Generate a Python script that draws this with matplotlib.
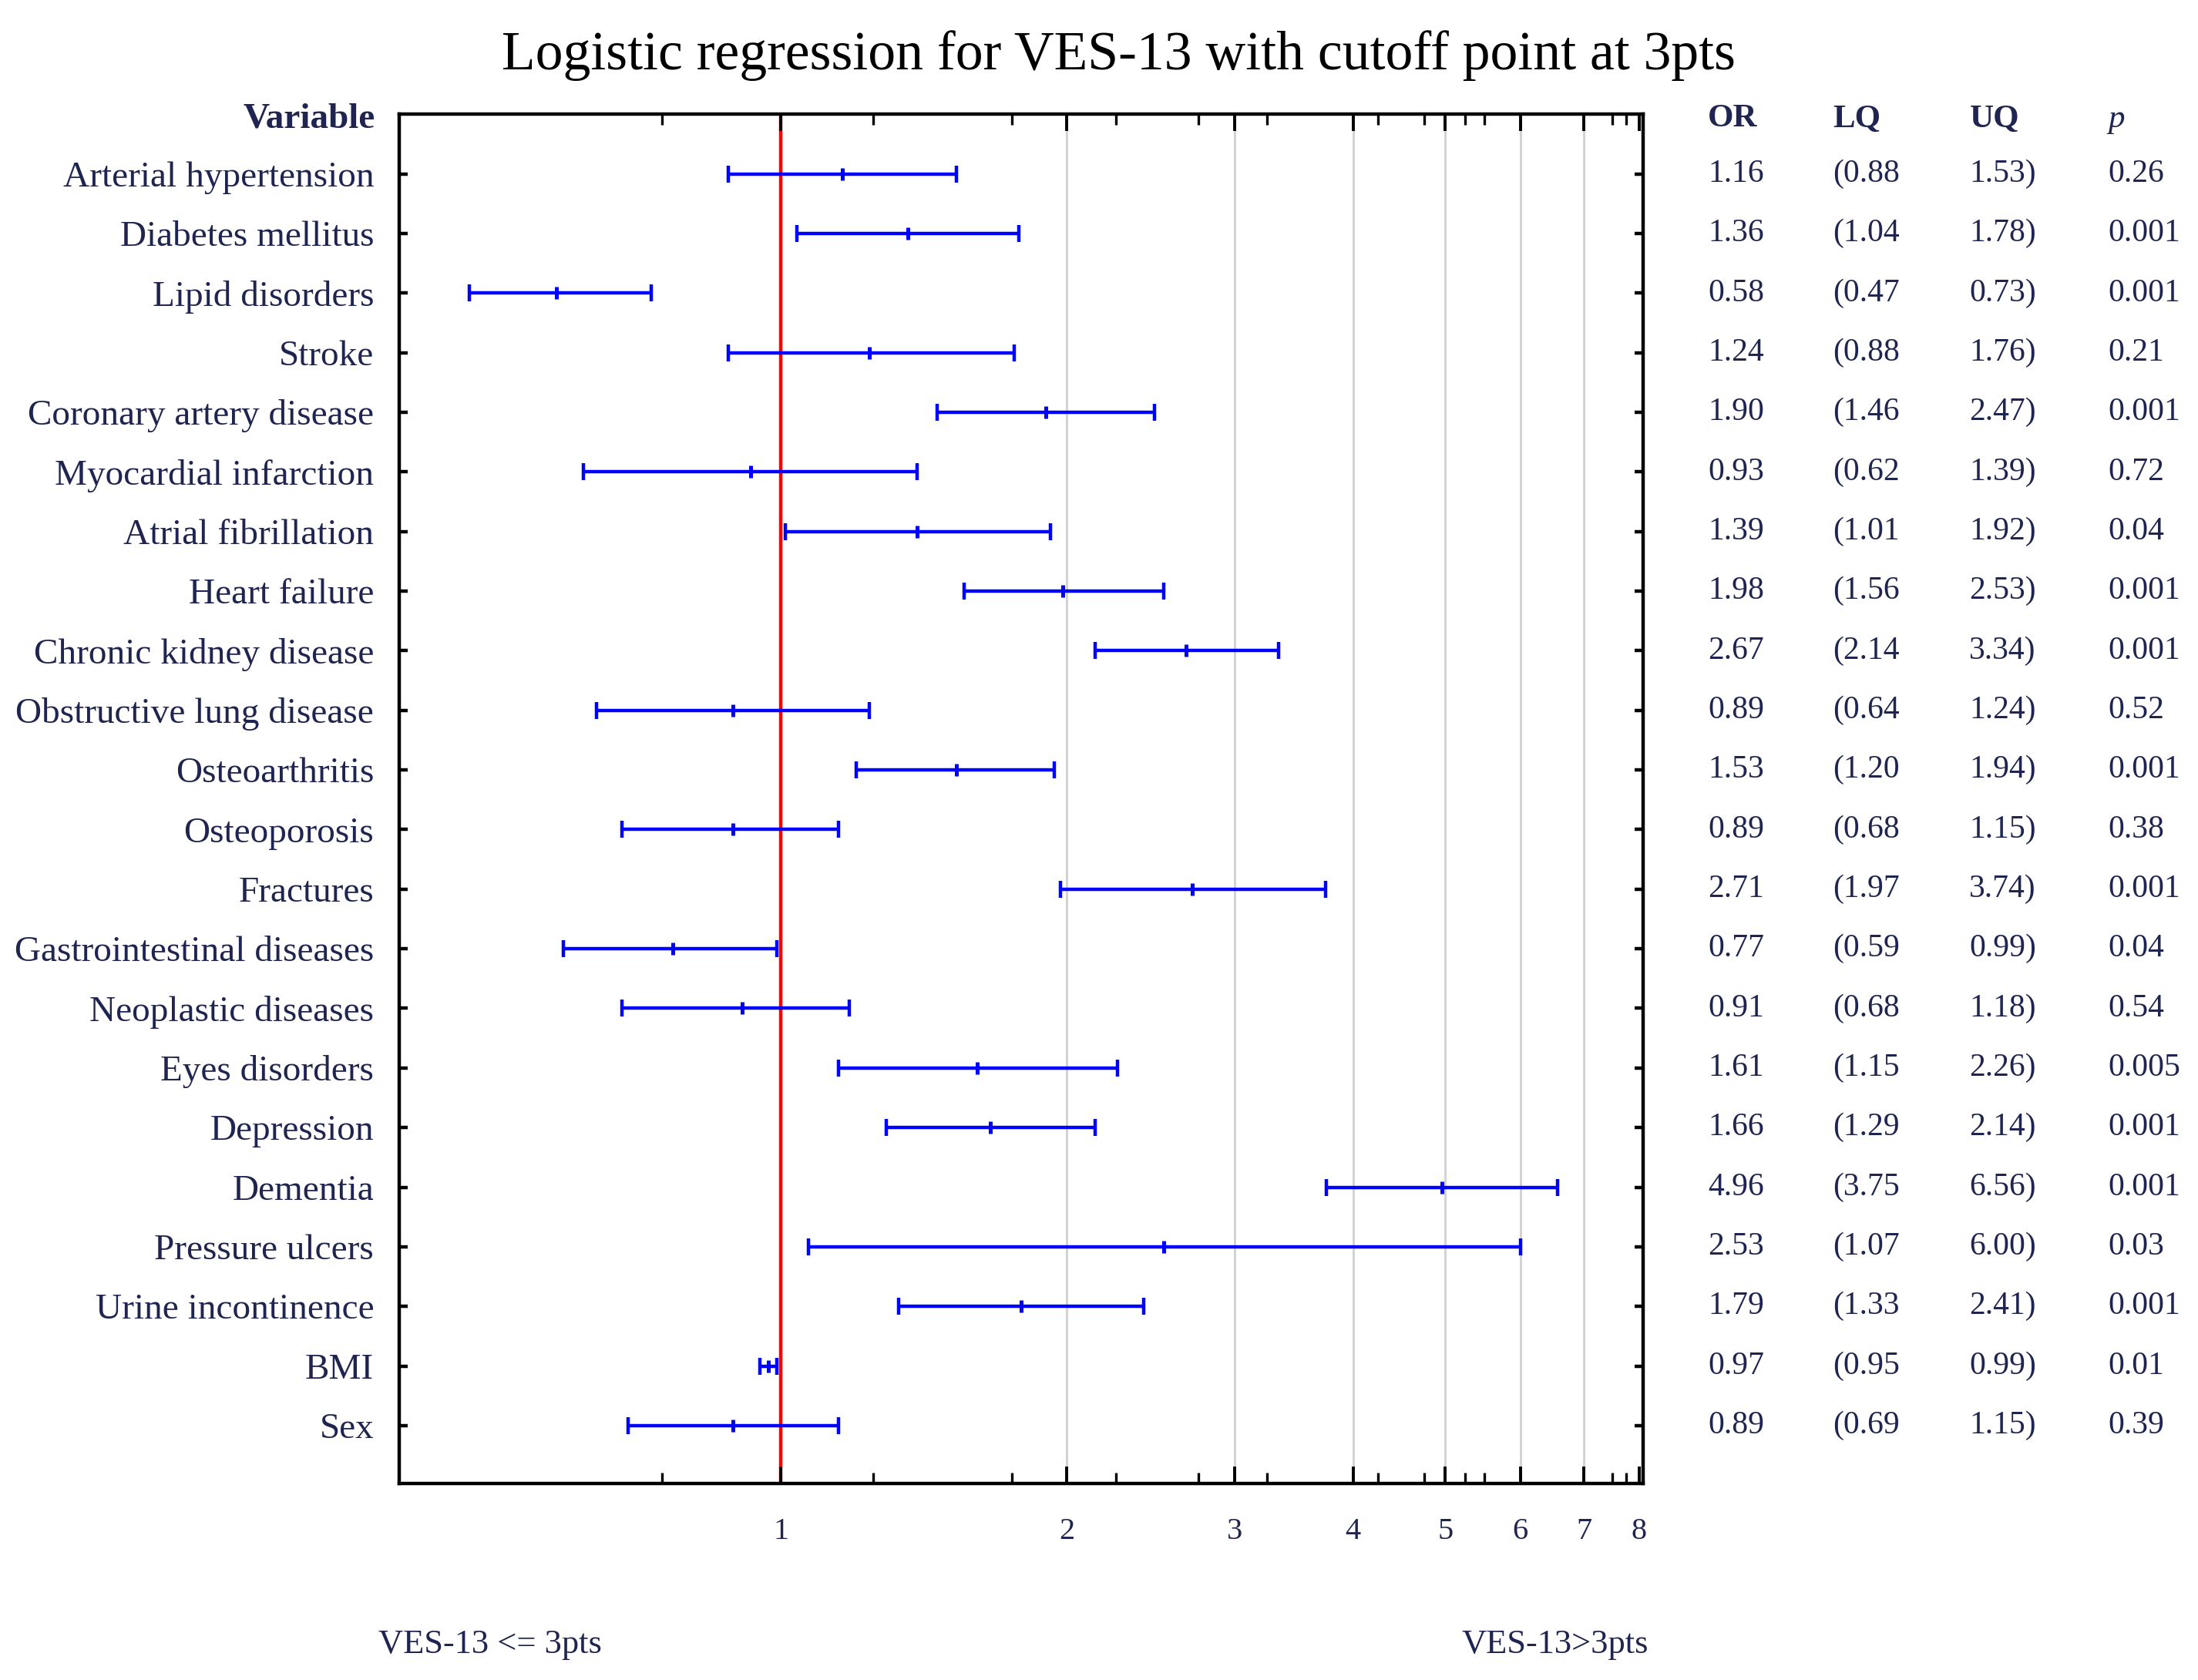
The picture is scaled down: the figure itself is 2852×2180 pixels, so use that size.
import matplotlib
matplotlib.use("Agg")
import matplotlib.pyplot as plt
import matplotlib.transforms as mtransforms
import numpy as np

variables = ["Arterial hypertension", "Diabetes mellitus", "Lipid disorders", "Stroke",
             "Coronary artery disease", "Myocardial infarction", "Atrial fibrillation",
             "Heart failure", "Chronic kidney disease", "Obstructive lung disease",
             "Osteoarthritis", "Osteoporosis", "Fractures", "Gastrointestinal diseases",
             "Neoplastic diseases", "Eyes disorders", "Depression", "Dementia",
             "Pressure ulcers", "Urine incontinence", "BMI", "Sex"]
odds_ratio = [1.16, 1.36, 0.58, 1.24, 1.90, 0.93, 1.39, 1.98, 2.67, 0.89, 1.53, 0.89,
              2.71, 0.77, 0.91, 1.61, 1.66, 4.96, 2.53, 1.79, 0.97, 0.89]
lower_q = [0.88, 1.04, 0.47, 0.88, 1.46, 0.62, 1.01, 1.56, 2.14, 0.64, 1.20, 0.68,
           1.97, 0.59, 0.68, 1.15, 1.29, 3.75, 1.07, 1.33, 0.95, 0.69]
upper_q = [1.53, 1.78, 0.73, 1.76, 2.47, 1.39, 1.92, 2.53, 3.34, 1.24, 1.94, 1.15,
           3.74, 0.99, 1.18, 2.26, 2.14, 6.56, 6.00, 2.41, 0.99, 1.15]
p_values = ["0.26", "0.001", "0.001", "0.21", "0.001", "0.72", "0.04", "0.001", "0.001",
            "0.52", "0.001", "0.38", "0.001", "0.04", "0.54", "0.005", "0.001", "0.001",
            "0.03", "0.001", "0.01", "0.39"]
major_ticks = [1, 2, 3, 4, 5, 6, 7, 8]
minor_ticks = [0.75, 1.25, 1.75, 2.25, 2.75, 3.25, 4.25, 4.75, 5.25, 5.5, 7.5, 7.75]
grid_vals = [2, 3, 4, 5, 6, 7]

FONT = "Liberation Serif"
TXT = "#1f2550"
plt.rcParams["font.family"] = [FONT, "DejaVu Serif"]

fig = plt.figure(figsize=(14.26, 10.9), dpi=200)
ax = fig.add_axes([0.1818, 0.117, 0.5656, 0.815])

y = np.arange(len(variables))
OR = np.array(odds_ratio)
LQ = np.array(lower_q)
UQ = np.array(upper_q)

for g in grid_vals:
    ax.axvline(g, color="#d0d0d0", lw=1.0, zorder=0)
ax.axvline(1, color="red", lw=1.6, zorder=1)

ax.errorbar(OR, y, xerr=[OR - LQ, UQ - OR], fmt="none", ecolor="blue",
            elinewidth=1.6, capsize=4, capthick=1.6, zorder=3)
ax.plot(OR, y, linestyle="none", marker="|", markersize=6, mew=1.8, color="blue", zorder=4)

ax.set_xscale("log")
ax.set_xlim(0.397, 8.07)
ax.set_ylim(len(variables) - 0.03, -1.0)

ax.xaxis.set_major_locator(matplotlib.ticker.FixedLocator(major_ticks))
ax.xaxis.set_minor_locator(matplotlib.ticker.FixedLocator(minor_ticks))
ax.xaxis.set_major_formatter(matplotlib.ticker.FixedFormatter([str(v) for v in major_ticks]))
ax.xaxis.set_minor_formatter(matplotlib.ticker.NullFormatter())
ax.tick_params(axis="x", which="major", direction="in", top=True, bottom=True,
               length=8, width=1.4, pad=16, labelsize=14.5, labelcolor=TXT)
ax.tick_params(axis="x", which="minor", direction="in", top=True, bottom=True,
               length=5, width=1.2)

ax.set_yticks(y)
ax.set_yticklabels(variables)
ax.tick_params(axis="y", which="major", direction="in", left=True, right=True,
               length=4, width=1.6, pad=12, labelsize=17, labelcolor=TXT)
ax.tick_params(axis="y", which="minor", left=False, right=False)

for s in ax.spines.values():
    s.set_linewidth(1.6)
    s.set_color("black")

trans = mtransforms.blended_transform_factory(fig.transFigure, ax.transData)
fig.text(0.509, 0.967, "Logistic regression for VES-13 with cutoff point at 3pts",
         ha="center", va="center", fontsize=25.8, color="black")
ax.text(0.1705, -0.92, "Variable", transform=trans, ha="right", va="center",
        fontsize=17, fontweight="bold", color=TXT)

cols_x = [0.777, 0.834, 0.896, 0.959]
headers = ["OR", "LQ", "UQ", "p"]
for cx, h in zip(cols_x, headers):
    ax.text(cx, -0.92, h, transform=trans, ha="left", va="center", fontsize=15.5,
            fontweight="bold" if h != "p" else "normal",
            fontstyle="italic" if h == "p" else "normal", color=TXT)

for i in range(len(variables)):
    ax.text(cols_x[0], y[i], f"{odds_ratio[i]:.2f}", transform=trans, ha="left", va="center",
            fontsize=15, color=TXT)
    ax.text(cols_x[1], y[i], f"({lower_q[i]:.2f}", transform=trans, ha="left", va="center",
            fontsize=15, color=TXT)
    ax.text(cols_x[2], y[i], f"{upper_q[i]:.2f})", transform=trans, ha="left", va="center",
            fontsize=15, color=TXT)
    ax.text(cols_x[3], y[i], p_values[i], transform=trans, ha="left", va="center",
            fontsize=15, color=TXT)

fig.text(0.172, 0.021, "VES-13 <= 3pts", ha="left", va="center", fontsize=16, color=TXT)
fig.text(0.750, 0.021, "VES-13>3pts", ha="right", va="center", fontsize=16, color=TXT)

fig.savefig("out.png", dpi=200)
